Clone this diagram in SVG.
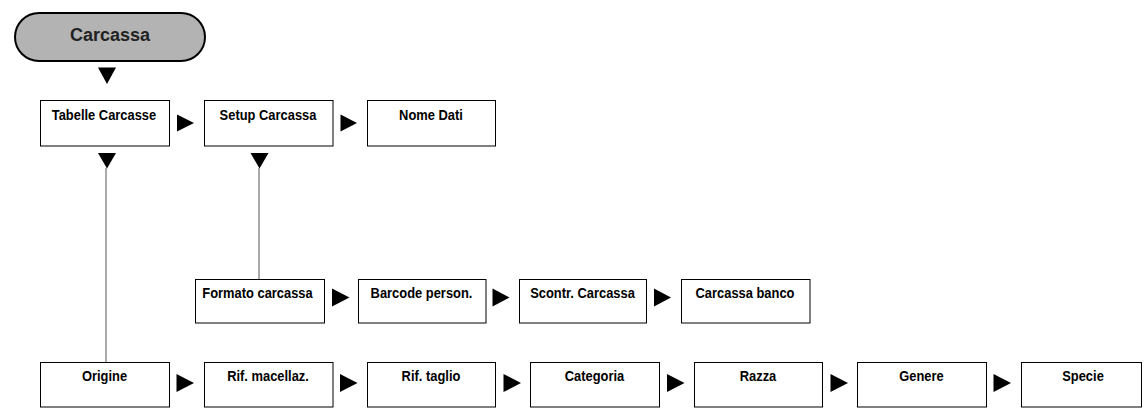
<svg xmlns="http://www.w3.org/2000/svg" width="1144" height="416" viewBox="0 0 1144 416">
<style>
  .box { fill: #ffffff; stroke: #000000; stroke-width: 1; }
  .pill { fill: #b3b3b3; stroke: #000000; stroke-width: 2; }
  .lbl { font-family: "Liberation Sans", Arial, sans-serif; font-weight: bold; font-size: 14.5px; fill: #000000; text-anchor: middle; }
  .title { font-family: "Liberation Sans", Arial, sans-serif; font-weight: bold; font-size: 18px; fill: #222222; text-anchor: middle; }
  .arr { fill: #000000; stroke: none; }
  .ln { stroke: #555555; stroke-width: 1; fill: none; }
</style>
<rect width="1144" height="416" fill="#ffffff"/>

<g id="connectors">
  <line class="ln" x1="106" y1="168" x2="106" y2="362"/>
  <line class="ln" x1="259" y1="168" x2="259" y2="279"/>
  <polygon class="arr" points="98,67.5 116,67.5 107,84"/>
  <polygon class="arr" points="98,153 116,153 107,168.5"/>
  <polygon class="arr" points="250.5,153 268.5,153 259.5,168.5"/>
  <polygon class="arr" points="177,114.5 194,123 177,131.5"/>
  <polygon class="arr" points="340.5,114.5 357,123 340.5,131.5"/>
  <polygon class="arr" points="332,288.5 349.5,297.5 332,306.5"/>
  <polygon class="arr" points="492.5,288.5 509.5,297.5 492.5,306.5"/>
  <polygon class="arr" points="654,288.5 671,297.5 654,306.5"/>
  <polygon class="arr" points="176.5,374 194,383 176.5,392"/>
  <polygon class="arr" points="340,374 357.5,383 340,392"/>
  <polygon class="arr" points="503.5,374 521,383 503.5,392"/>
  <polygon class="arr" points="667,374 684.5,383 667,392"/>
  <polygon class="arr" points="830.5,374 848,383 830.5,392"/>
  <polygon class="arr" points="993.5,374 1011,383 993.5,392"/>
</g>

<g id="n-carcassa">
  <rect class="pill" x="15" y="13" width="190" height="48" rx="24" ry="24"/>
  <text class="title" x="110" y="41">Carcassa</text>
</g>

<g id="n-tabelle">
  <rect class="box" x="40.5" y="100.5" width="129" height="45.5"/>
  <text class="lbl" transform="translate(104 119.5) scale(0.89 1)">Tabelle Carcasse</text>
</g>
<g id="n-setup">
  <rect class="box" x="204.5" y="100.5" width="128.5" height="45.5"/>
  <text class="lbl" transform="translate(268 119.5) scale(0.89 1)">Setup Carcassa</text>
</g>
<g id="n-nome">
  <rect class="box" x="367.5" y="100.5" width="128" height="45.5"/>
  <text class="lbl" transform="translate(431 119.5) scale(0.89 1)">Nome Dati</text>
</g>

<g id="n-formato">
  <rect class="box" x="195.5" y="279.5" width="129" height="43.5"/>
  <text class="lbl" transform="translate(257.5 297.5) scale(0.89 1)">Formato carcassa</text>
</g>
<g id="n-barcode">
  <rect class="box" x="358.5" y="279.5" width="127.5" height="43.5"/>
  <text class="lbl" transform="translate(421.5 297.5) scale(0.89 1)">Barcode person.</text>
</g>
<g id="n-scontr">
  <rect class="box" x="519.5" y="279.5" width="127" height="43.5"/>
  <text class="lbl" transform="translate(582.5 297.5) scale(0.89 1)">Scontr. Carcassa</text>
</g>
<g id="n-banco">
  <rect class="box" x="681.5" y="279.5" width="128.5" height="43.5"/>
  <text class="lbl" transform="translate(745 297.5) scale(0.89 1)">Carcassa banco</text>
</g>

<g id="n-origine">
  <rect class="box" x="40.5" y="362.5" width="129" height="44.5"/>
  <text class="lbl" transform="translate(104.5 381) scale(0.89 1)">Origine</text>
</g>
<g id="n-rifmac">
  <rect class="box" x="204.5" y="362.5" width="128.5" height="44.5"/>
  <text class="lbl" transform="translate(268 381) scale(0.89 1)">Rif. macellaz.</text>
</g>
<g id="n-riftaglio">
  <rect class="box" x="367.5" y="362.5" width="128" height="44.5"/>
  <text class="lbl" transform="translate(431 381) scale(0.89 1)">Rif. taglio</text>
</g>
<g id="n-categoria">
  <rect class="box" x="530.5" y="362.5" width="129" height="44.5"/>
  <text class="lbl" transform="translate(594.5 381) scale(0.89 1)">Categoria</text>
</g>
<g id="n-razza">
  <rect class="box" x="694.5" y="362.5" width="128" height="44.5"/>
  <text class="lbl" transform="translate(758 381) scale(0.89 1)">Razza</text>
</g>
<g id="n-genere">
  <rect class="box" x="857.5" y="362.5" width="129" height="44.5"/>
  <text class="lbl" transform="translate(921.5 381) scale(0.89 1)">Genere</text>
</g>
<g id="n-specie">
  <rect class="box" x="1021.5" y="362.5" width="120" height="44.5"/>
  <text class="lbl" transform="translate(1083 381) scale(0.89 1)">Specie</text>
</g>
</svg>
